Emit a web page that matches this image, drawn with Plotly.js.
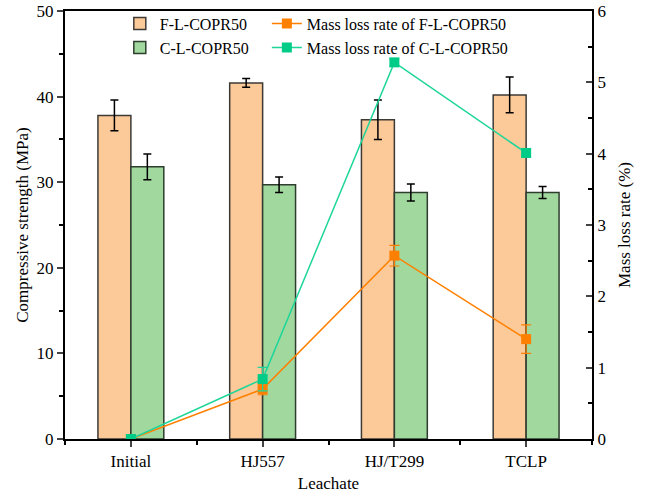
<!DOCTYPE html>
<html><head><meta charset="utf-8">
<script src="https://cdn.plot.ly/plotly-3.0.1.min.js"></script>
<style>html,body{margin:0;padding:0;background:#fff}#chart{width:645px;height:494px}</style>
</head><body><div id="chart"></div>
<script>
const categories = ["Initial", "HJ557", "HJ/T299", "TCLP"];
const strengthF = [37.8, 41.6, 37.3, 40.2];
const strengthFErr = [1.8, 0.5, 2.3, 2.1];
const strengthC = [31.8, 29.7, 28.8, 28.8];
const strengthCErr = [1.5, 0.9, 1.0, 0.7];
const massLossF = [0, 0.70, 2.57, 1.40];
const massLossFErr = [0, 0.08, 0.145, 0.2];
const massLossC = [0, 0.84, 5.28, 4.01];
const massLossCErr = [0, 0.165, 0.05, 0.05];

const xs = categories.map((c, i) => i);
const font = "'Times New Roman', 'Liberation Serif', 'DejaVu Serif', serif";

const traces = [
  {type:"bar", x:xs, y:strengthF, name:"F-L-COPR50", legend:"legend",
   marker:{color:"#FCC998", line:{color:"#3d3a36", width:1.5}},
   error_y:{type:"data", array:strengthFErr, color:"#000", thickness:1.5, width:4}},
  {type:"bar", x:xs, y:strengthC, name:"C-L-COPR50", legend:"legend",
   marker:{color:"#A0D89E", line:{color:"#2f3d2f", width:1.5}},
   error_y:{type:"data", array:strengthCErr, color:"#000", thickness:1.5, width:4}},
  {type:"scatter", mode:"lines+markers", x:xs, y:massLossF, yaxis:"y2", name:"Mass loss rate of F-L-COPR50", legend:"legend2",
   line:{color:"#FF8000", width:1.5}, marker:{symbol:"square", size:10, color:"#FF8000"},
   error_y:{type:"data", array:massLossFErr, color:"#FF8000", thickness:1.2, width:5}},
  {type:"scatter", mode:"lines+markers", x:xs, y:massLossC, yaxis:"y2", name:"Mass loss rate of C-L-COPR50", legend:"legend2",
   line:{color:"#1FD69A", width:1.5}, marker:{symbol:"square", size:10, color:"#00CC88"},
   error_y:{type:"data", array:massLossCErr, color:"#1FD69A", thickness:1.2, width:5}}
];

const layout = {
  width:645, height:494,
  margin:{l:65, r:53, t:11, b:55, autoexpand:false},
  paper_bgcolor:"#fff", plot_bgcolor:"#fff",
  font:{family:font, size:17, color:"#000"},
  barmode:"group", bargap:0.5, bargroupgap:0,
  showlegend:true,
  legend:{x:0.104, xanchor:"left", y:1.01, yanchor:"top", bgcolor:"rgba(0,0,0,0)",
          font:{family:font, size:16}, tracegroupgap:0, itemwidth:30},
  legend2:{x:0.383, xanchor:"left", y:1.01, yanchor:"top", bgcolor:"rgba(0,0,0,0)",
          font:{family:font, size:16}, tracegroupgap:0, itemwidth:30},
  xaxis:{range:[-0.5, 3.5], tickvals:xs, ticktext:categories, ticks:"outside", ticklen:6, tickwidth:2,
         minor:{dtick:0.5, tick0:-0.5, ticks:"outside", ticklen:4, tickwidth:2, tickcolor:"#000"},
         showline:true, linewidth:2, linecolor:"#000", mirror:true, showgrid:false, zeroline:false,
         title:{text:"Leachate", font:{family:font, size:17}, standoff:7},
         tickfont:{family:font, size:17}},
  yaxis:{range:[0, 50], dtick:10, ticks:"outside", ticklen:6, tickwidth:2,
         minor:{dtick:5, ticks:"outside", ticklen:4, tickwidth:2, tickcolor:"#000"},
         showline:true, linewidth:2, linecolor:"#000", mirror:true, showgrid:false, zeroline:false,
         title:{text:"Compressive strength (MPa)", font:{family:font, size:17}, standoff:4},
         tickfont:{family:font, size:17}},
  yaxis2:{overlaying:"y", side:"right", range:[0, 6], dtick:1, ticks:"inside", ticklen:6, tickwidth:2,
          minor:{dtick:0.5, ticks:"inside", ticklen:4, tickwidth:2, tickcolor:"#000"},
          showline:true, linewidth:2, linecolor:"#000", showgrid:false, zeroline:false,
          title:{text:"Mass loss rate (%)", font:{family:font, size:17}, standoff:13},
          tickfont:{family:font, size:17}}
};

Plotly.newPlot("chart", traces, layout, {displayModeBar:false, staticPlot:true});
</script></body></html>
